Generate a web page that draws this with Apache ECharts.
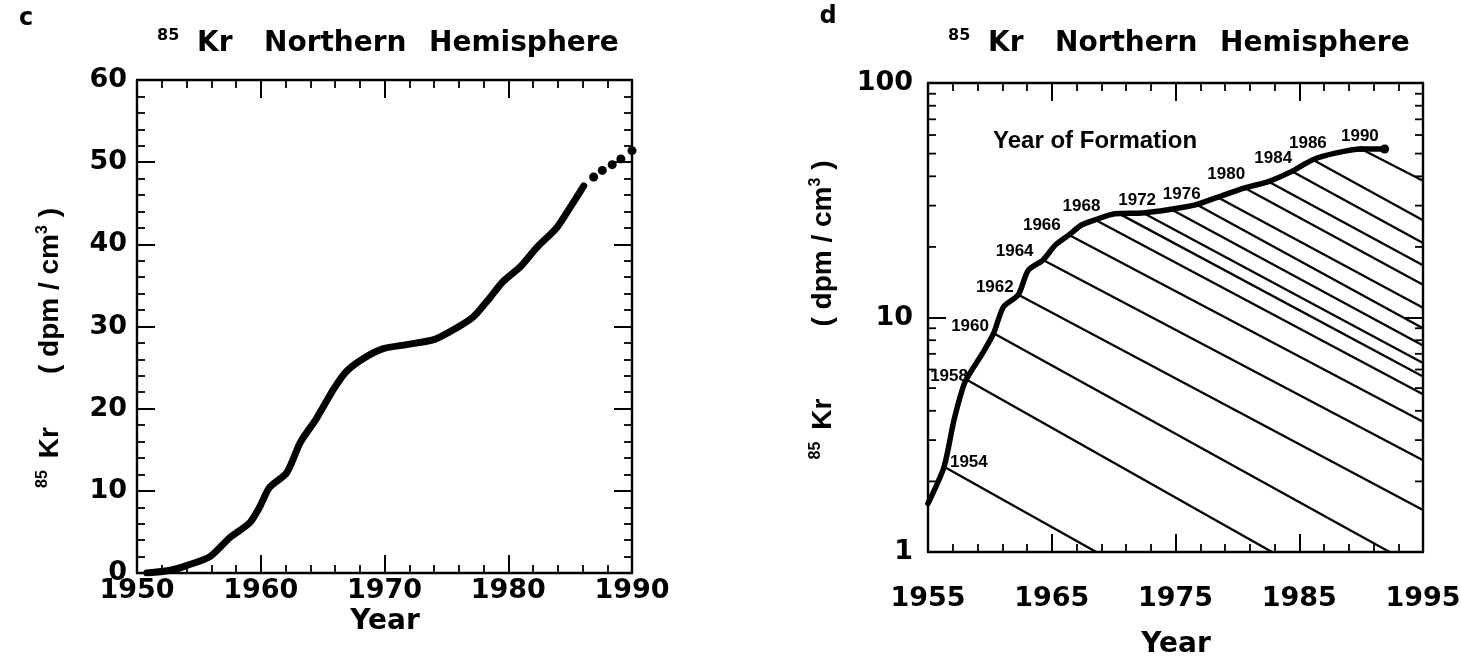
<!DOCTYPE html>
<html>
<head>
<meta charset="utf-8">
<script src="https://cdn.jsdelivr.net/npm/echarts@6/dist/echarts.min.js"></script>
<style>
html,body{margin:0;padding:0;background:#fff;}
#c{width:1461px;height:664px;}
</style>
</head>
<body>
<div id="c"></div>
<script>
// ---------- Panel c : 85Kr Northern Hemisphere (linear) ----------
const cYears  = [1950.8, 1952.6, 1954.0, 1955.9, 1957.5, 1959.1, 1959.9, 1960.7, 1962.1, 1963.2, 1964.5, 1965.9, 1966.9, 1968.3, 1969.9, 1971.8, 1974.0, 1975.8, 1977.2, 1978.3, 1979.6, 1981.0, 1982.3, 1983.9, 1985.0, 1986.1];
const cValues = [0.0, 0.3, 0.9, 2.0, 4.3, 6.1, 8.0, 10.4, 12.2, 15.9, 18.8, 22.4, 24.5, 26.1, 27.3, 27.8, 28.4, 29.8, 31.2, 33.1, 35.5, 37.3, 39.6, 42.0, 44.5, 47.1];
const cDotYears  = [1986.9, 1987.6, 1988.4, 1989.1, 1990.0];
const cDotValues = [48.2, 49.0, 49.7, 50.4, 51.4];
const cXTicks = [1950, 1960, 1970, 1980, 1990];
const cYTicks = [0, 10, 20, 30, 40, 50, 60];

// ---------- Panel d : 85Kr Northern Hemisphere (log) ----------
const dYears  = [1955.0, 1956.3, 1957.1, 1958.0, 1959.4, 1960.3, 1961.1, 1962.3, 1963.1, 1964.3, 1965.3, 1966.4, 1967.4, 1968.5, 1970.1, 1972.3, 1974.4, 1976.6, 1978.2, 1980.6, 1982.5, 1984.4, 1986.1, 1987.9, 1990.0, 1991.9];
const dValues = [1.61, 2.31, 3.65, 5.32, 7.03, 8.56, 11.1, 12.5, 15.9, 17.6, 20.4, 22.5, 24.8, 26.1, 27.7, 27.9, 28.8, 30.2, 32.3, 35.7, 38.0, 42.0, 47.1, 50.2, 52.3, 52.3];
const dDotYears  = [1990.0, 1991.9];
const dDotValues = [52.3, 52.3];
// decay lines (start on the curve, end at frame edge)
const decayStartYears  = [1956.3, 1958.2, 1960.3, 1962.3, 1964.3, 1966.4, 1968.5, 1970.4, 1972.4, 1974.6, 1976.7, 1978.4, 1980.6, 1982.5, 1984.4, 1986.1, 1990.0];
const decayStartValues = [2.31, 5.4, 8.56, 12.5, 17.6, 22.5, 26.1, 27.8, 27.9, 29.0, 30.3, 32.6, 35.7, 38.0, 42.0, 47.1, 52.3];
const decayEndYears    = [1968.6, 1982.8, 1992.3, 1995, 1995, 1995, 1995, 1995, 1995, 1995, 1995, 1995, 1995, 1995, 1995, 1995, 1995];
const decayEndValues   = [1, 1, 1, 1.51, 2.46, 3.59, 4.71, 5.6, 6.4, 7.6, 9.0, 11.0, 13.8, 16.7, 20.8, 26.0, 38.3];
const formationLabels      = ['1954', '1958', '1960', '1962', '1964', '1966', '1968', '1972', '1976', '1980', '1984', '1986', '1990'];
const formationLabelYears  = [1958.3, 1956.7, 1958.4, 1960.4, 1962.0, 1964.2, 1967.4, 1971.9, 1975.5, 1979.1, 1982.9, 1985.7, 1989.9];
const formationLabelValues = [2.42, 5.59, 9.14, 13.5, 19.1, 24.8, 29.7, 31.7, 33.4, 40.6, 47.8, 55.4, 59.2];
const noteText = 'Year of Formation';
const noteYear = 1968.5, noteValue = 56.4;
const dXTicks = [1955, 1965, 1975, 1985, 1995];
const dYTicks = [1, 10, 100];
const dMinorTickValues = [2, 3, 4, 5, 6, 7, 8, 9, 20, 30, 40, 50, 60, 70, 80, 90];

// ---------- build ----------
const K = '#000';
const WIDE = 'DejaVu Sans';
const ARIAL = 'Liberation Sans';
const X0 = dXTicks[0];
const dx = y => +(y - X0).toFixed(3);
const zip = (a, b) => a.map((v, i) => [v, b[i]]);

function frameAxis(extra) {
  return Object.assign({
    type: 'value',
    splitLine: {show: false},
    axisLine: {show: true, onZero: false, lineStyle: {color: K, width: 2.4}},
    axisTick: {show: true, inside: true, length: 18, lineStyle: {color: K, width: 2}},
    minorTick: {show: true, splitNumber: 5, length: 8, lineStyle: {color: K, width: 1.8}},
    axisLabel: {show: false}
  }, extra);
}
const tickLabel = (margin, size, fmt) => ({
  show: true, margin: margin, color: K, fontFamily: WIDE, fontWeight: 'bold', fontSize: size,
  showMinLabel: true, showMaxLabel: true, hideOverlap: false,
  formatter: fmt || (v => String(v))
});
const cx = {min: cXTicks[0], max: cXTicks[cXTicks.length - 1], interval: cXTicks[1] - cXTicks[0]};
const cy = {min: cYTicks[0], max: cYTicks[cYTicks.length - 1], interval: cYTicks[1] - cYTicks[0]};
const ddx = {min: 0, max: dXTicks[dXTicks.length - 1] - X0, interval: dXTicks[1] - dXTicks[0]};

function logAxis(extra) {
  return Object.assign({
    type: 'log', logBase: 10, min: dYTicks[0], max: dYTicks[dYTicks.length - 1],
    splitLine: {show: false},
    axisLine: {show: true, onZero: false, lineStyle: {color: K, width: 2.4}},
    axisTick: {show: true, inside: true, length: 18, lineStyle: {color: K, width: 2}},
    minorTick: {show: false},
    axisLabel: {show: false}
  }, extra);
}

const solid = {color: K, opacity: 1};
const series = [];
// panel c curve
series.push({
  type: 'line', xAxisIndex: 0, yAxisIndex: 0, data: zip(cYears, cValues),
  showSymbol: false, symbol: 'none', smooth: 0.25, silent: true, z: 5,
  lineStyle: {color: K, width: 7, cap: 'round', join: 'round'}
});
series.push({
  type: 'scatter', xAxisIndex: 0, yAxisIndex: 0, data: zip(cDotYears, cDotValues),
  symbol: 'circle', symbolSize: 9, itemStyle: solid, silent: true, z: 5
});
// panel d decay lines
decayStartYears.forEach((sy, i) => {
  series.push({
    type: 'line', xAxisIndex: 2, yAxisIndex: 2,
    data: [[dx(sy), decayStartValues[i]], [dx(decayEndYears[i]), decayEndValues[i]]],
    showSymbol: false, symbol: 'none', silent: true, z: 3,
    lineStyle: {color: K, width: 2.3}
  });
});
// panel d main curve
series.push({
  type: 'line', xAxisIndex: 2, yAxisIndex: 2, data: dYears.map((y, i) => [dx(y), dValues[i]]),
  showSymbol: false, symbol: 'none', smooth: 0.25, silent: true, z: 5,
  lineStyle: {color: K, width: 5.5, cap: 'round', join: 'round'}
});
series.push({
  type: 'scatter', xAxisIndex: 2, yAxisIndex: 2, data: dDotYears.map((y, i) => [dx(y), dDotValues[i]]),
  symbol: 'circle', symbolSize: (v, p) => p.dataIndex === 1 ? 9 : 6, itemStyle: solid, silent: true, z: 6
});
// minor ticks of the log axis (left and right frame)
series.push({
  type: 'custom', xAxisIndex: 2, yAxisIndex: 2, silent: true, clip: false, z: 4,
  data: dMinorTickValues.map(v => [0, v]),
  renderItem: function (params, api) {
    const v = api.value(1);
    const pL = api.coord([ddx.min, v]);
    const pR = api.coord([ddx.max, v]);
    return {
      type: 'group', children: [
        {type: 'line', shape: {x1: pL[0], y1: pL[1], x2: pL[0] + 8, y2: pL[1]}, style: {stroke: K, lineWidth: 1.8}},
        {type: 'line', shape: {x1: pR[0] - 8, y1: pR[1], x2: pR[0], y2: pR[1]}, style: {stroke: K, lineWidth: 1.8}}
      ]
    };
  }
});
// formation-year labels
series.push({
  type: 'scatter', xAxisIndex: 2, yAxisIndex: 2, symbolSize: 0, silent: true, z: 7,
  itemStyle: solid,
  data: formationLabels.map((t, i) => ({name: t, value: [dx(formationLabelYears[i]), formationLabelValues[i]]})),
  label: {show: true, position: 'inside', formatter: '{b}', color: K, opacity: 1, fontFamily: ARIAL, fontWeight: 'bold', fontSize: 17}
});
series.push({
  type: 'scatter', xAxisIndex: 2, yAxisIndex: 2, symbolSize: 0, silent: true, z: 7,
  itemStyle: solid,
  data: [{name: noteText, value: [dx(noteYear), noteValue]}],
  label: {show: true, position: 'inside', formatter: '{b}', color: K, opacity: 1, fontFamily: ARIAL, fontWeight: 'bold', fontSize: 24}
});

// ---------- text graphics ----------
function titleParts(x0) {
  const b = {fontFamily: WIDE, fontWeight: 'bold', fontSize: 28, fill: K, align: 'left', verticalAlign: 'middle'};
  return [
    {type: 'text', x: x0, y: 36, style: Object.assign({}, b, {text: '85', fontSize: 16})},
    {type: 'text', x: x0 + 40, y: 44, style: Object.assign({}, b, {text: 'Kr'})},
    {type: 'text', x: x0 + 107, y: 44, style: Object.assign({}, b, {text: 'Northern'})},
    {type: 'text', x: x0 + 272, y: 44, style: Object.assign({}, b, {text: 'Hemisphere'})}
  ];
}
function yTitle(x, y, gap) {
  return {
    type: 'text', x: x, y: y, rotation: Math.PI / 2,
    style: {
      text: '{s|85}{g| }{k|Kr}{G| }{k|( dpm / cm}{s|3}{k| )}',
      align: 'center', verticalAlign: 'middle', fill: K,
      rich: {
        k: {fontFamily: ARIAL, fontWeight: 'bold', fontSize: 28, lineHeight: 30, fill: K},
        s: {fontFamily: ARIAL, fontWeight: 'bold', fontSize: 16, lineHeight: 16, verticalAlign: 'top', fill: K},
        g: {fontSize: 15, width: 12, lineHeight: 16},
        G: {fontSize: 15, width: gap, lineHeight: 16}
      }
    }
  };
}
const big = {fontFamily: WIDE, fontWeight: 'bold', fill: K, align: 'center', verticalAlign: 'middle'};
const graphics = [].concat(
  [{type: 'text', x: 26, y: 19, style: Object.assign({}, big, {text: 'c', fontSize: 24})},
   {type: 'text', x: 828, y: 17, style: Object.assign({}, big, {text: 'd', fontSize: 24})}],
  titleParts(157), titleParts(948),
  [yTitle(50, 348, 53), yTitle(823, 310, 72),
   {type: 'text', x: 385, y: 622, style: Object.assign({}, big, {text: 'Year', fontSize: 28})},
   {type: 'text', x: 1176, y: 645, style: Object.assign({}, big, {text: 'Year', fontSize: 28})}]
);

const option = {
  animation: false,
  backgroundColor: '#fff',
  grid: [
    {left: 137, top: 80, width: 495, height: 493, outerBoundsMode: 'none', containLabel: false},
    {left: 928, top: 83, width: 495, height: 469, outerBoundsMode: 'none', containLabel: false}
  ],
  xAxis: [
    frameAxis(Object.assign({gridIndex: 0, position: 'bottom', axisLabel: tickLabel(4, 27)}, cx)),
    frameAxis(Object.assign({gridIndex: 0, position: 'top'}, cx)),
    frameAxis(Object.assign({gridIndex: 1, position: 'bottom', axisLabel: tickLabel(33, 27, v => String(v + X0))}, ddx)),
    frameAxis(Object.assign({gridIndex: 1, position: 'top'}, ddx))
  ],
  yAxis: [
    frameAxis(Object.assign({gridIndex: 0, position: 'left', axisLabel: tickLabel(10, 27)}, cy)),
    frameAxis(Object.assign({gridIndex: 0, position: 'right'}, cy)),
    logAxis({gridIndex: 1, position: 'left', axisLabel: tickLabel(15, 27)}),
    logAxis({gridIndex: 1, position: 'right'})
  ],
  series: series,
  graphic: graphics
};
const chart = echarts.init(document.getElementById('c'), null, {renderer: 'canvas'});
chart.setOption(option);
</script>
</body>
</html>
